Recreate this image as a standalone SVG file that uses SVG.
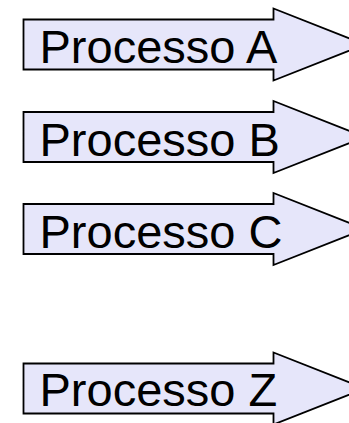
<svg xmlns="http://www.w3.org/2000/svg" width="349" height="423" viewBox="0 0 349 423">
<style>
.arrow{fill:#E6E6FA;stroke:#000;stroke-width:1.8;stroke-linejoin:miter}
.lbl{font-family:"Liberation Sans",Arial,sans-serif;font-size:47px;fill:#000}
</style>
<rect width="349" height="423" fill="#fff"/>
<g id="processo-a">
<polygon class="arrow" points="23.5,19.5 273.5,19.5 273.5,8.5 365,44.5 273.5,80.5 273.5,69.5 23.5,69.5"/>
<text class="lbl" x="39.5" y="63">Processo A</text>
</g>
<g id="processo-b">
<polygon class="arrow" points="23.5,112 273.5,112 273.5,101 365,137 273.5,173 273.5,162 23.5,162"/>
<text class="lbl" x="39.5" y="155.5">Processo B</text>
</g>
<g id="processo-c">
<polygon class="arrow" points="23.5,204 273.5,204 273.5,193 365,229 273.5,265 273.5,254 23.5,254"/>
<text class="lbl" x="39.5" y="247.5">Processo C</text>
</g>
<g id="processo-z">
<polygon class="arrow" points="23.5,363.5 273.5,363.5 273.5,352.5 365,388.5 273.5,424.5 273.5,413.5 23.5,413.5"/>
<text class="lbl" x="39.5" y="406">Processo Z</text>
</g>
<g id="connectors"></g>
</svg>
